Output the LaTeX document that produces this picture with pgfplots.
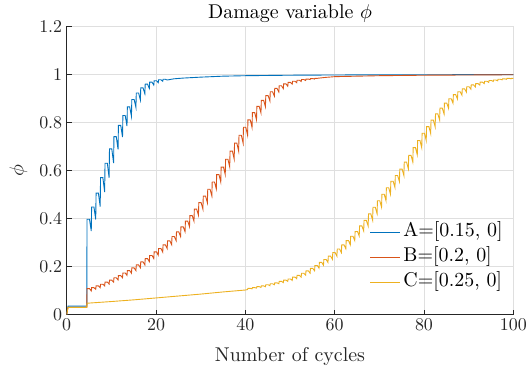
\documentclass[border=0pt]{standalone}
\usepackage{pgfplots}
\pgfplotsset{compat=1.18}

% Use the 10pt design of Latin Modern / Computer Modern at every size
\DeclareFontFamily{TU}{lmten}{}
\DeclareFontShape{TU}{lmten}{m}{n}{<-> \UnicodeFontFile{lmroman10-regular}{\UnicodeFontTeXLigatures}}{}
\renewcommand{\rmdefault}{lmten}
\DeclareFontShape{OT1}{cmr}{m}{n}{<-> cmr10}{}
\DeclareFontShape{OML}{cmm}{m}{it}{<-> cmmi10}{}

% MATLAB default line colours
\definecolor{mA}{rgb}{0,0.447,0.741}
\definecolor{mB}{rgb}{0.85,0.325,0.098}
\definecolor{mC}{rgb}{0.929,0.694,0.125}
\definecolor{axgray}{rgb}{0.15,0.15,0.15}
\definecolor{gridgray}{rgb}{0.875,0.875,0.875}

\begin{document}
\begin{tikzpicture}
\begin{axis}[
  scale only axis,
  width=446.6bp, height=288bp,
  xmin=0, xmax=100, ymin=0, ymax=1.2,
  xtick={0,20,40,60,80,100},
  ytick={0,0.2,0.4,0.6,0.8,1,1.2},
  yticklabels={0,0.2,0.4,0.6,0.8,1,1.2},
  axis lines*=left,
  axis line style={axgray, line width=0.7bp},
  tick align=inside,
  major tick length=5bp,
  tick style={axgray, line width=0.7bp},
  grid=major,
  major grid style={gridgray, line width=0.7bp},
  ticklabel style={font=\fontsize{18}{21}\selectfont, text=axgray},
  xticklabel style={yshift=-1bp},
  yticklabel style={xshift=-1bp},
  every axis title shift=0pt,
  title={Damage variable $\phi$},
  title style={at={(axis description cs:0.5,1.0278)}, anchor=base, font=\fontsize{20}{24}\selectfont},
  xlabel={Number of cycles},
  xlabel style={at={(axis description cs:0.5,-0.1615)}, anchor=base, font=\fontsize{20}{24}\selectfont, text=axgray},
  ylabel={$\phi$},
  ylabel style={at={(axis description cs:-0.097,0.5)}, anchor=base, font=\fontsize{20}{24}\selectfont, text=axgray},
  legend cell align=left,
  legend style={at={(axis description cs:0.976,0.079)}, anchor=south east,
    draw=none, fill=none, inner sep=0bp, outer sep=0bp,
    font=\fontsize{20}{24}\selectfont,
    nodes={inner sep=0bp, text height=14bp, text depth=5bp},
    row sep=6bp, column sep=3bp},
  legend image code/.code={\draw[#1] (0bp,0bp) -- (30bp,0bp);},
  every axis plot/.append style={line width=0.9bp},
]

% A = [0.15, 0]
\addplot[mA] coordinates {
(0,0) (0.3,0.035) (4.5,0.035) (4.55,0.397) (5.1,0.397)
(5.5,0.348) (5.58,0.448) (6.1,0.448)
(6.5,0.396) (6.58,0.506) (7.1,0.506)
(7.5,0.450) (7.58,0.570) (8.1,0.570)
(8.5,0.510) (8.58,0.630) (9.1,0.630)
(9.5,0.570) (9.58,0.690) (10.1,0.690)
(10.5,0.631) (10.58,0.741) (11.1,0.741)
(11.5,0.688) (11.58,0.788) (12.1,0.788)
(12.5,0.739) (12.58,0.829) (13.1,0.829)
(13.5,0.785) (13.58,0.865) (14.1,0.865)
(14.5,0.826) (14.58,0.896) (15.1,0.896)
(15.5,0.863) (15.58,0.923) (16.1,0.923)
(16.5,0.894) (16.58,0.944) (17.1,0.944)
(17.5,0.920) (17.58,0.960) (18.1,0.960)
(18.5,0.942) (18.58,0.968) (19.1,0.968)
(19.5,0.956) (19.58,0.974) (20.1,0.974)
(20.5,0.966) (20.58,0.978) (21.1,0.978)
(21.5,0.972) (21.58,0.980) (22.1,0.980)
(22.5,0.977) (24,0.982) (26,0.985) (30,0.989) (35,0.993)
(40,0.995) (50,0.997) (60,0.998) (80,0.999) (100,0.9995)
};
\addlegendentry{A=[0.15, 0]}

% B = [0.2, 0]
\addplot[mB] coordinates {
(0,0) (0.3,0.03) (4.5,0.03) (4.55,0.108) (5.1,0.108)
(5.5,0.098) (5.58,0.112) (6.1,0.112)
(6.5,0.105) (6.58,0.119) (7.1,0.119)
(7.5,0.112) (7.58,0.126) (8.1,0.126)
(8.5,0.119) (8.58,0.135) (9.1,0.135)
(9.5,0.127) (9.58,0.143) (10.1,0.143)
(10.5,0.135) (10.58,0.153) (11.1,0.153)
(11.5,0.144) (11.58,0.162) (12.1,0.162)
(12.5,0.153) (12.58,0.173) (13.1,0.173)
(13.5,0.163) (13.58,0.183) (14.1,0.183)
(14.5,0.172) (14.58,0.194) (15.1,0.194)
(15.5,0.183) (15.58,0.207) (16.1,0.207)
(16.5,0.195) (16.58,0.219) (17.1,0.219)
(17.5,0.207) (17.58,0.233) (18.1,0.233)
(18.5,0.220) (18.58,0.246) (19.1,0.246)
(19.5,0.233) (19.58,0.261) (20.1,0.261)
(20.5,0.247) (20.58,0.275) (21.1,0.275)
(21.5,0.260) (21.58,0.290) (22.1,0.290)
(22.5,0.275) (22.58,0.307) (23.1,0.307)
(23.5,0.291) (23.58,0.325) (24.1,0.325)
(24.5,0.308) (24.58,0.344) (25.1,0.344)
(25.5,0.325) (25.58,0.365) (26.1,0.365)
(26.5,0.345) (26.58,0.389) (27.1,0.389)
(27.5,0.366) (27.58,0.412) (28.1,0.412)
(28.5,0.389) (28.58,0.439) (29.1,0.439)
(29.5,0.414) (29.58,0.466) (30.1,0.466)
(30.5,0.439) (30.58,0.493) (31.1,0.493)
(31.5,0.466) (31.58,0.522) (32.1,0.522)
(32.5,0.494) (32.58,0.552) (33.1,0.552)
(33.5,0.523) (33.58,0.583) (34.1,0.583)
(34.5,0.552) (34.58,0.614) (35.1,0.614)
(35.5,0.583) (35.58,0.647) (36.1,0.647)
(36.5,0.615) (36.58,0.681) (37.1,0.681)
(37.5,0.648) (37.58,0.714) (38.1,0.714)
(38.5,0.681) (38.58,0.747) (39.1,0.747)
(39.5,0.714) (39.58,0.780) (40.1,0.780)
(40.5,0.747) (40.58,0.811) (41.1,0.811)
(41.5,0.779) (41.58,0.841) (42.1,0.841)
(42.5,0.811) (42.58,0.867) (43.1,0.867)
(43.5,0.840) (43.58,0.892) (44.1,0.892)
(44.5,0.866) (44.58,0.912) (45.1,0.912)
(45.5,0.890) (45.58,0.928) (46.1,0.928)
(46.5,0.910) (46.58,0.942) (47.1,0.942)
(47.5,0.927) (47.58,0.953) (48.1,0.953)
(48.5,0.941) (48.58,0.961) (49.1,0.961)
(49.5,0.951) (49.58,0.967) (50.1,0.967)
(50.5,0.960) (50.58,0.972) (51.1,0.972)
(51.5,0.966) (51.58,0.976) (52.1,0.976)
(52.5,0.971) (52.58,0.979) (53.1,0.979)
(53.5,0.975) (53.58,0.981) (54.1,0.981)
(54.5,0.979) (54.58,0.983) (55.1,0.983)
(55.5,0.981) (55.58,0.984) (56.1,0.984)
(56.5,0.985) (58,0.988) (60,0.991) (65,0.993) (70,0.995)
(80,0.997) (90,0.998) (100,0.999)
};
\addlegendentry{B=[0.2, 0]}

% C = [0.25, 0]
\addplot[mC] coordinates {
(0,0) (0.3,0.03) (4.5,0.03) (4.55,0.047) (10,0.054) (15,0.061)
(20,0.069) (25,0.077) (30,0.085) (35,0.094) (40,0.102)
(40.5,0.104) (40.58,0.109) (41.1,0.109)
(41.5,0.107) (41.58,0.112) (42.1,0.112)
(42.5,0.110) (42.58,0.116) (43.1,0.116)
(43.5,0.113) (43.58,0.119) (44.1,0.119)
(44.5,0.116) (44.58,0.124) (45.1,0.124)
(45.5,0.120) (45.58,0.128) (46.1,0.128)
(46.5,0.124) (46.58,0.132) (47.1,0.132)
(47.5,0.128) (47.58,0.138) (48.1,0.138)
(48.5,0.133) (48.58,0.143) (49.1,0.143)
(49.5,0.138) (49.58,0.148) (50.1,0.148)
(50.5,0.142) (50.58,0.156) (51.1,0.156)
(51.5,0.149) (51.58,0.163) (52.1,0.163)
(52.5,0.156) (52.58,0.172) (53.1,0.172)
(53.5,0.164) (53.58,0.182) (54.1,0.182)
(54.5,0.172) (54.58,0.192) (55.1,0.192)
(55.5,0.182) (55.58,0.204) (56.1,0.204)
(56.5,0.193) (56.58,0.217) (57.1,0.217)
(57.5,0.205) (57.58,0.229) (58.1,0.229)
(58.5,0.217) (58.58,0.243) (59.1,0.243)
(59.5,0.230) (59.58,0.258) (60.1,0.258)
(60.5,0.243) (60.58,0.273) (61.1,0.273)
(61.5,0.258) (61.58,0.290) (62.1,0.290)
(62.5,0.274) (62.58,0.308) (63.1,0.308)
(63.5,0.290) (63.58,0.326) (64.1,0.326)
(64.5,0.308) (64.58,0.346) (65.1,0.346)
(65.5,0.327) (65.58,0.369) (66.1,0.369)
(66.5,0.348) (66.58,0.392) (67.1,0.392)
(67.5,0.369) (67.58,0.419) (68.1,0.419)
(68.5,0.393) (68.58,0.447) (69.1,0.447)
(69.5,0.420) (69.58,0.474) (70.1,0.474)
(70.5,0.447) (70.58,0.501) (71.1,0.501)
(71.5,0.474) (71.58,0.528) (72.1,0.528)
(72.5,0.501) (72.58,0.555) (73.1,0.555)
(73.5,0.529) (73.58,0.579) (74.1,0.579)
(74.5,0.554) (74.58,0.606) (75.1,0.606)
(75.5,0.579) (75.58,0.635) (76.1,0.635)
(76.5,0.607) (76.58,0.663) (77.1,0.663)
(77.5,0.635) (77.58,0.695) (78.1,0.695)
(78.5,0.665) (78.58,0.725) (79.1,0.725)
(79.5,0.695) (79.58,0.755) (80.1,0.755)
(80.5,0.725) (80.58,0.783) (81.1,0.783)
(81.5,0.754) (81.58,0.810) (82.1,0.810)
(82.5,0.782) (82.58,0.836) (83.1,0.836)
(83.5,0.810) (83.58,0.860) (84.1,0.860)
(84.5,0.835) (84.58,0.881) (85.1,0.881)
(85.5,0.859) (85.58,0.899) (86.1,0.899)
(86.5,0.880) (86.58,0.916) (87.1,0.916)
(87.5,0.898) (87.58,0.928) (88.1,0.928)
(88.5,0.914) (88.58,0.940) (89.1,0.940)
(89.5,0.927) (89.58,0.949) (90.1,0.949)
(90.5,0.939) (90.58,0.957) (91.1,0.957)
(91.5,0.948) (91.58,0.962) (92.1,0.962)
(92.5,0.956) (92.58,0.968) (93.1,0.968)
(93.5,0.962) (93.58,0.972) (94.1,0.972)
(94.5,0.967) (94.58,0.975) (95.1,0.975)
(95.5,0.971) (95.58,0.977) (96.1,0.977)
(96.5,0.974) (96.58,0.980) (97.1,0.980)
(97.5,0.978) (97.58,0.982) (98.1,0.982)
(98.5,0.980) (98.58,0.984) (99.1,0.984)
(99.5,0.982) (99.58,0.984) (100,0.984)
};
\addlegendentry{C=[0.25, 0]}

\end{axis}
% fixed page frame around the axis box
\pgfresetboundingbox
\useasboundingbox ([shift={(-66.7bp,-61.5bp)}]current axis.south west) rectangle ++(529bp,376bp);
\end{tikzpicture}
\end{document}
